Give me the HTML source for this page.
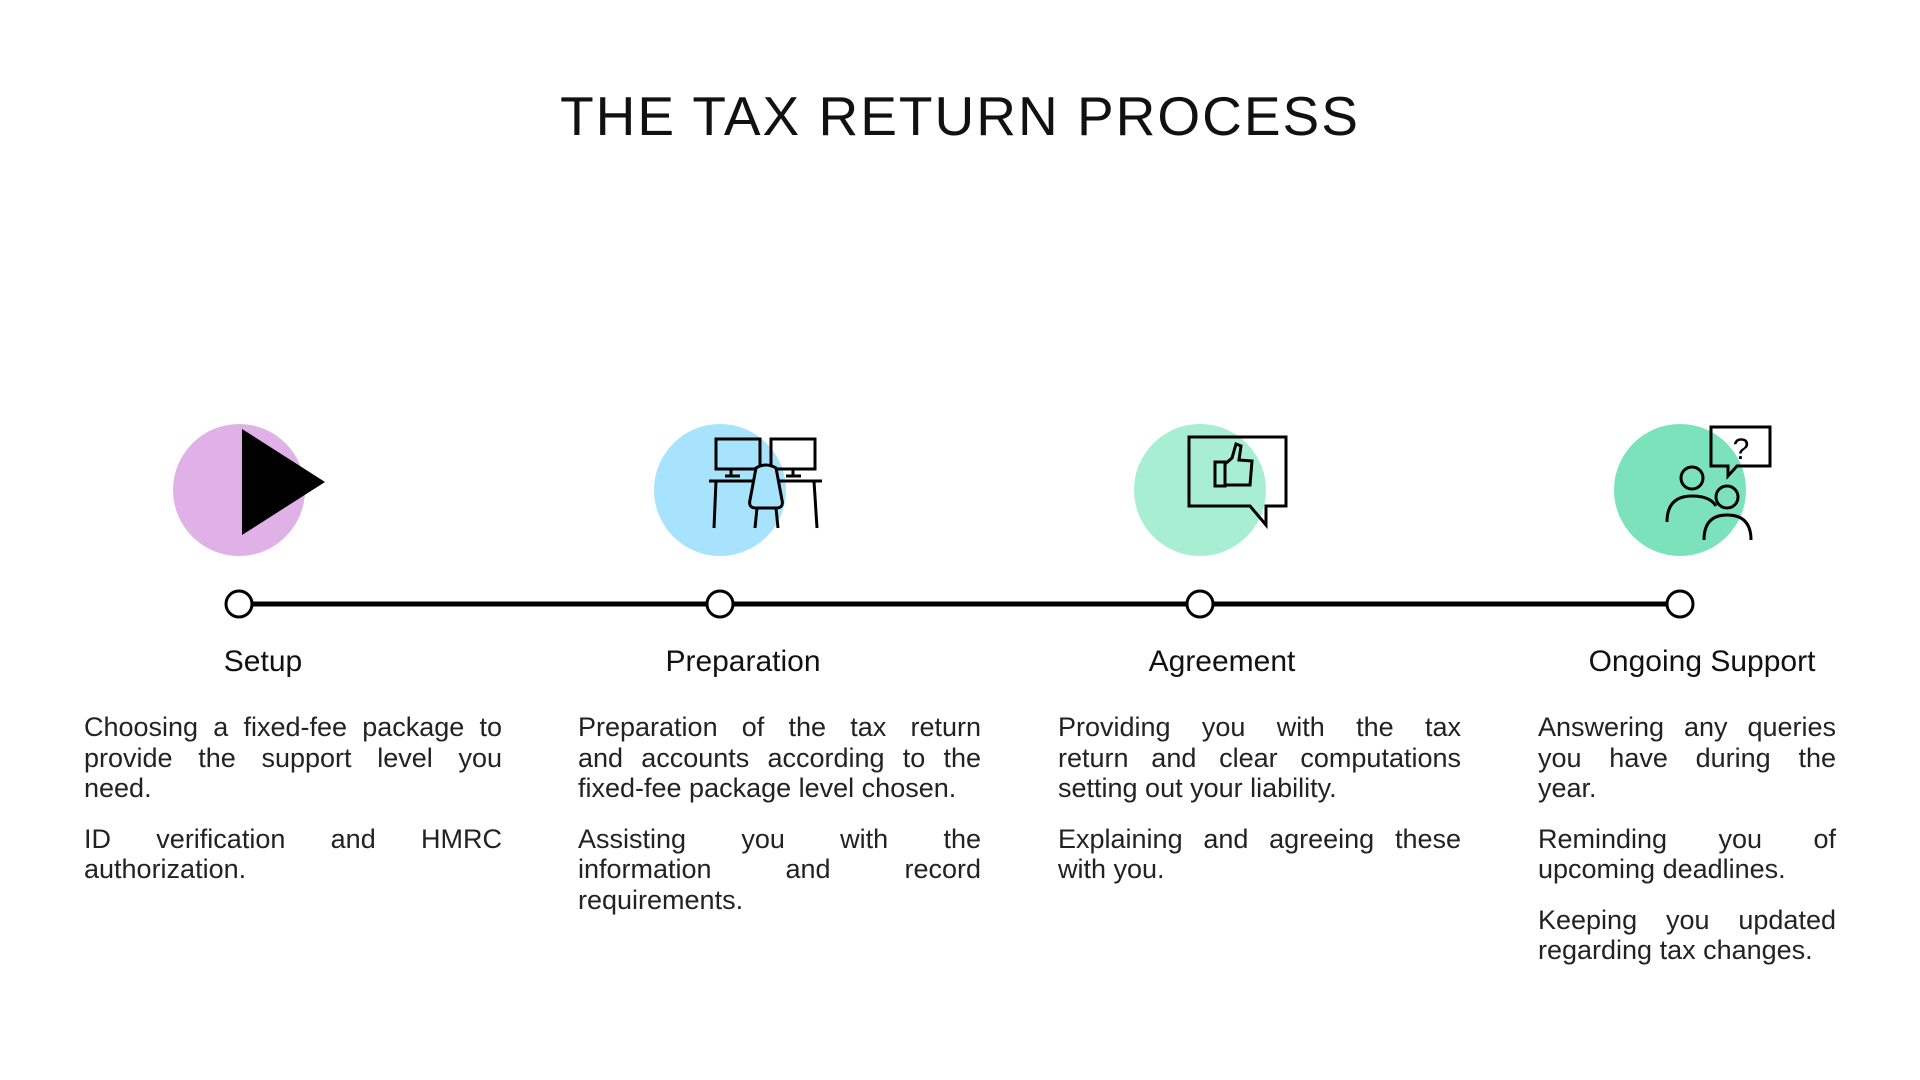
<!DOCTYPE html>
<html><head><meta charset="utf-8"><style>
body{margin:0;width:1920px;height:1080px;background:#fff;position:relative;overflow:hidden;font-family:"Liberation Sans",sans-serif;color:#111}
.title{position:absolute;left:0;width:1920px;top:84px;text-align:center;font-size:55px;letter-spacing:2px;font-weight:normal}
.lab{position:absolute;top:645px;width:400px;text-align:center;font-size:30px;}
.col{position:absolute;top:712px;font-size:27px;line-height:30.5px;color:#222}
.p{margin:0 0 20px 0}
.j{text-align:justify;text-align-last:justify;white-space:nowrap}
.l{white-space:nowrap}
</style></head><body>
<div class="title">THE TAX RETURN PROCESS</div>
<svg width="1920" height="1080" style="position:absolute;left:0;top:0">
<circle cx="239" cy="490" r="66" fill="#dfb1e6"/>
<circle cx="720" cy="490" r="66" fill="#a7e3fc"/>
<circle cx="1200" cy="490" r="66" fill="#a8eed3"/>
<circle cx="1680" cy="490" r="66" fill="#7ce2bb"/>
<polygon points="242,429 242,535 325,482" fill="#000"/>
<g fill="none" stroke="#000" stroke-width="3">
<rect x="716" y="439" width="44" height="30"/><rect x="771" y="439" width="44" height="30"/>
<line x1="731" y1="469" x2="731" y2="476"/><line x1="725" y1="476" x2="740" y2="476"/>
<line x1="793" y1="469" x2="793" y2="476"/><line x1="786" y1="476" x2="801" y2="476"/>
<line x1="709" y1="481" x2="822" y2="481"/>
<line x1="716" y1="481" x2="714" y2="528"/><line x1="814" y1="481" x2="817" y2="528"/>
<path d="M756 468 Q766 462 776 468 L782 500 Q784 508 776 508 L756 508 Q748 508 750 500 Z" fill="#a7e3fc"/>
<line x1="757" y1="508" x2="755" y2="528"/><line x1="776" y1="508" x2="778" y2="528"/>
<path d="M1189 437 L1286 437 L1286 506 L1266 506 L1266 525 L1250 506 L1189 506 Z"/>
<path d="M1215 462 L1225 462 L1225 486 L1215 486 Z M1225 464 L1232 458 L1236 444 L1241 446 L1239 460 L1252 461 L1250 485 L1225 485"/>
<path d="M1711 427 L1770 427 L1770 466 L1737 466 L1728 476 L1728 466 L1711 466 Z"/>
<circle cx="1692" cy="478" r="11"/><path d="M1667 522 Q1667 496 1692 496 Q1710 496 1716 506"/>
<circle cx="1727" cy="497" r="11"/><path d="M1704 540 Q1704 515 1727 515 Q1751 515 1751 540"/>
</g>
<text x="1741" y="459" font-size="30" font-family="Liberation Sans" text-anchor="middle">?</text>
<line x1="239" y1="604" x2="1680" y2="604" stroke="#000" stroke-width="5"/>
<g fill="#fff" stroke="#000" stroke-width="3">
<circle cx="239" cy="604" r="13"/><circle cx="720" cy="604" r="13"/><circle cx="1200" cy="604" r="13"/><circle cx="1680" cy="604" r="13"/>
</g>
</svg>
<div class="lab" style="left:63px">Setup</div>
<div class="lab" style="left:543px">Preparation</div>
<div class="lab" style="left:1022px">Agreement</div>
<div class="lab" style="left:1502px">Ongoing Support</div>
<div class="col" style="left:84px;width:418px"><div class="p"><div class="j">Choosing a fixed-fee package to</div><div class="j">provide the support level you</div><div class="l">need.</div></div><div class="p"><div class="j">ID verification and HMRC</div><div class="l">authorization.</div></div></div>
<div class="col" style="left:578px;width:403px"><div class="p"><div class="j">Preparation of the tax return</div><div class="j">and accounts according to the</div><div class="l">fixed-fee package level chosen.</div></div><div class="p"><div class="j">Assisting you with the</div><div class="j">information and record</div><div class="l">requirements.</div></div></div>
<div class="col" style="left:1058px;width:403px"><div class="p"><div class="j">Providing you with the tax</div><div class="j">return and clear computations</div><div class="l">setting out your liability.</div></div><div class="p"><div class="j">Explaining and agreeing these</div><div class="l">with you.</div></div></div>
<div class="col" style="left:1538px;width:298px"><div class="p"><div class="j">Answering any queries</div><div class="j">you have during the</div><div class="l">year.</div></div><div class="p"><div class="j">Reminding you of</div><div class="l">upcoming deadlines.</div></div><div class="p"><div class="j">Keeping you updated</div><div class="l">regarding tax changes.</div></div></div>
</body></html>
